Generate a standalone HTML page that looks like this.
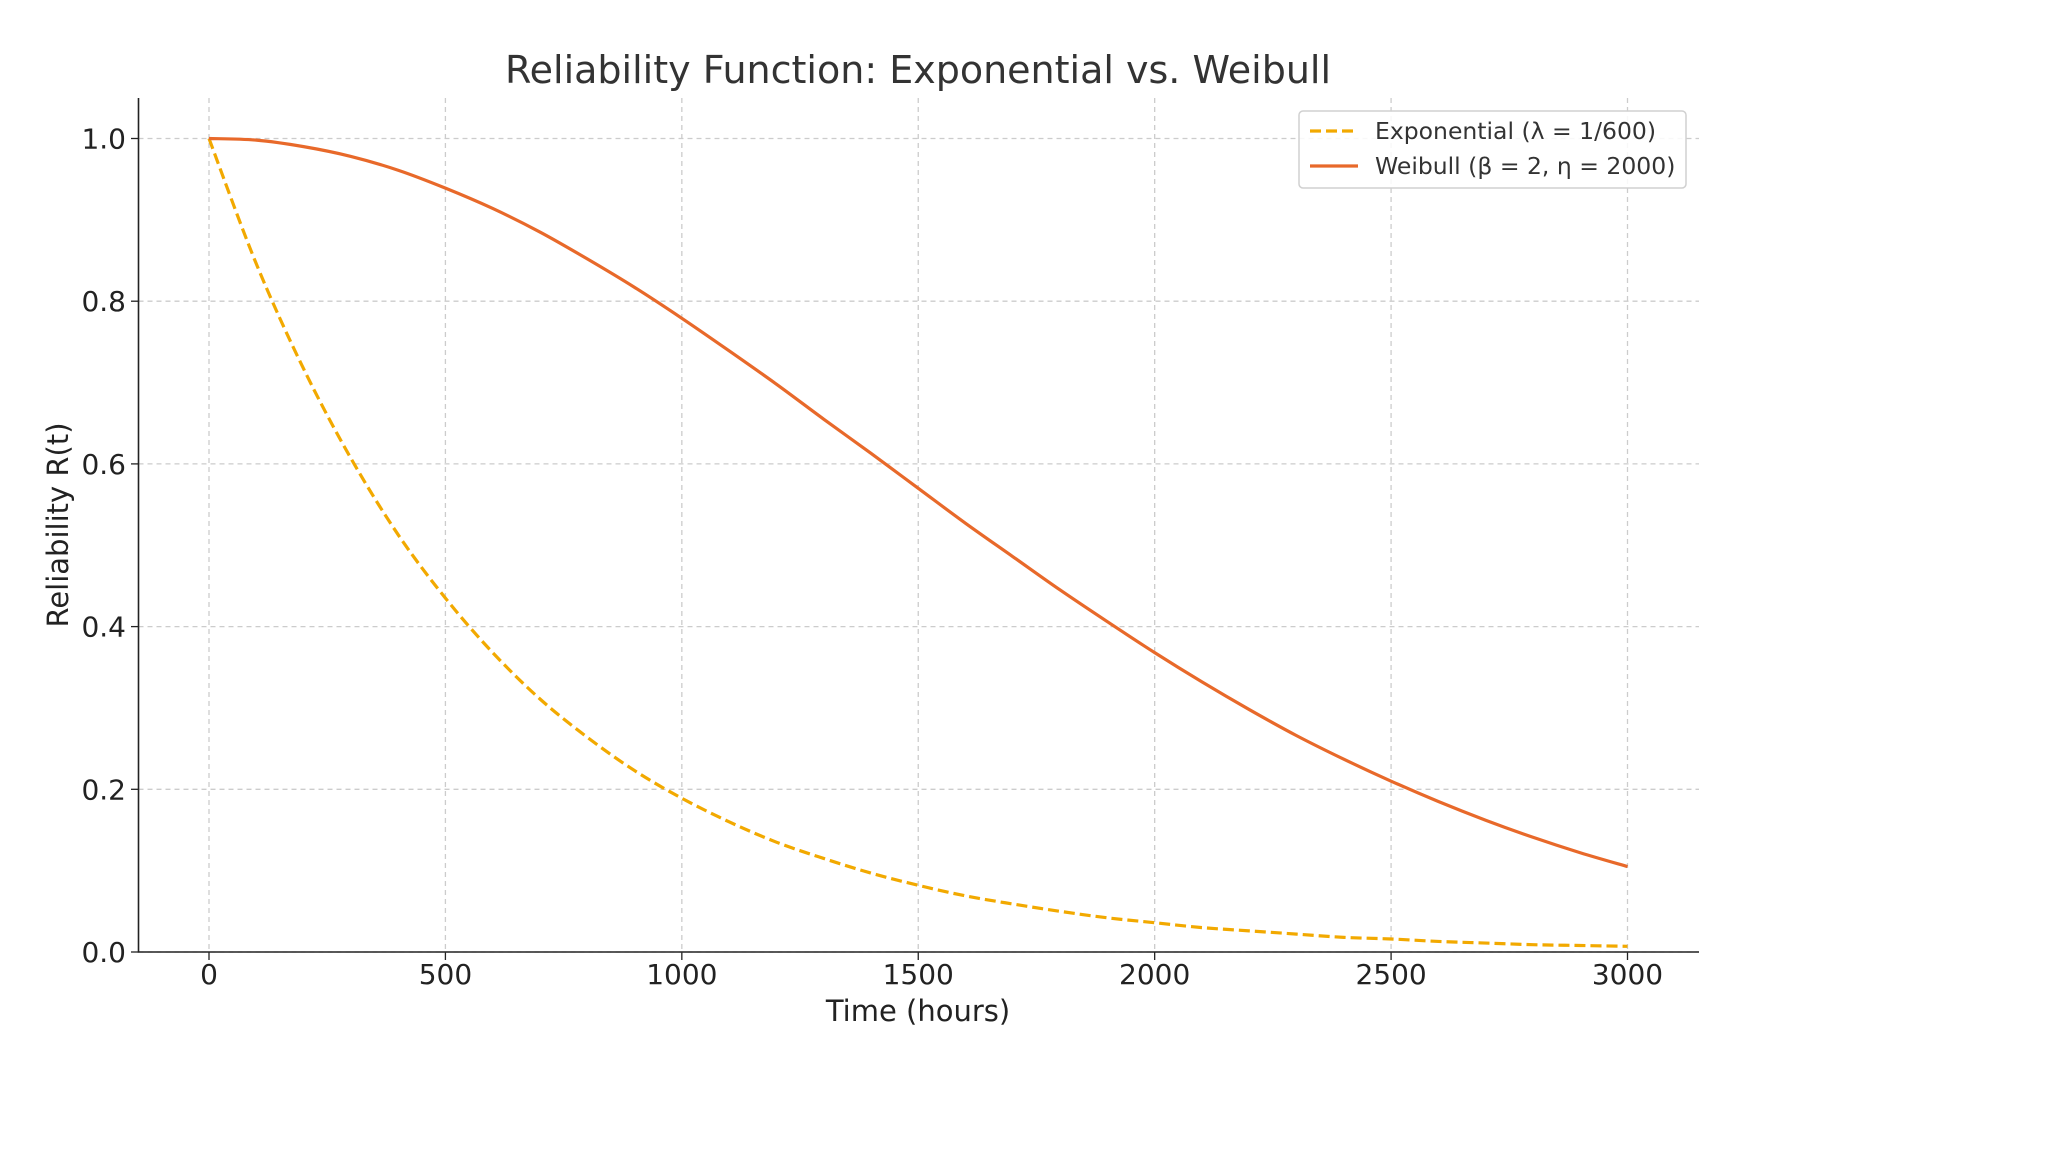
<!DOCTYPE html>
<html><head><meta charset="utf-8"><style>
body{margin:0;background:#fff;}
svg{display:block;font-family:"DejaVu Sans","Liberation Sans",sans-serif;}
</style></head><body>
<svg id="chart" width="2048" height="1152" viewBox="0 0 2048 1152"></svg>
<script>
const timeHours=[0,100,200,300,400,500,600,700,800,900,1000,1100,1200,1300,1400,1500,1600,1700,1800,1900,2000,2100,2200,2300,2400,2500,2600,2700,2800,2900,3000];
const expValues=[1,.846,.717,.607,.513,.435,.368,.311,.264,.223,.189,.160,.135,.115,.097,.082,.069,.059,.050,.042,.036,.030,.026,.022,.018,.016,.013,.011,.009,.008,.007];
const weibullValues=[1,.998,.990,.978,.961,.939,.914,.885,.852,.817,.779,.739,.698,.655,.613,.570,.527,.486,.445,.406,.368,.332,.298,.266,.237,.210,.185,.162,.141,.122,.105];
const xTicks=[0,500,1000,1500,2000,2500,3000];
const yTicks=[0,0.2,0.4,0.6,0.8,1.0];
const NS="http://www.w3.org/2000/svg";
const svg=document.getElementById('chart');
const X0=209,X1=1627.5,Y0=952,Y1=138.5;
const xs=v=>X0+(v-0)/3000*(X1-X0);
const ys=v=>Y0+(v-0)/1*(Y1-Y0);
function mk(t,a,p){const e=document.createElementNS(NS,t);for(const k in a)e.setAttribute(k,a[k]);(p||svg).appendChild(e);return e;}
function smooth(pts){
 let d='M'+pts[0][0]+' '+pts[0][1];
 for(let i=0;i<pts.length-1;i++){
  const p0=pts[Math.max(0,i-1)],p1=pts[i],p2=pts[i+1],p3=pts[Math.min(pts.length-1,i+2)];
  const c1x=p1[0]+(p2[0]-p0[0])/6,c1y=p1[1]+(p2[1]-p0[1])/6;
  const c2x=p2[0]-(p3[0]-p1[0])/6,c2y=p2[1]-(p3[1]-p1[1])/6;
  d+=` C${c1x} ${c1y} ${c2x} ${c2y} ${p2[0]} ${p2[1]}`;
 }
 return d;
}
xTicks.forEach(v=>{
 const g=mk('line',{x1:xs(v),x2:xs(v),y1:98,y2:952,stroke:'#cccccc','stroke-width':1.3,'stroke-dasharray':'5,4'});
 
 
 const tk=mk('line',{x1:xs(v),x2:xs(v),y1:952,y2:960,stroke:'#222','stroke-width':1.3});
 
 
 const t=mk('text',{x:xs(v),y:984,'text-anchor':'middle','font-size':28,fill:'#222'});
 t.textContent=v;
 
 
});
yTicks.forEach(v=>{
 const g=mk('line',{x1:138.5,x2:1699,y1:ys(v),y2:ys(v),stroke:'#cccccc','stroke-width':1.3,'stroke-dasharray':'5,4'});
 
 
 const tk=mk('line',{x1:131,x2:138.5,y1:ys(v),y2:ys(v),stroke:'#222','stroke-width':1.3});
 
 
 const t=mk('text',{x:126,y:ys(v)+10,'text-anchor':'end','font-size':28,fill:'#222'});
 t.textContent=v.toFixed(1);
 
 
});
const sp=mk('path',{d:`M138.5 98 V952 H1699`,fill:'none',stroke:'#222','stroke-width':1.6});


const pe=mk('path',{d:smooth(timeHours.map((t,i)=>[xs(t),ys(expValues[i])])),fill:'none',stroke:'#f2a900','stroke-width':3.2,'stroke-dasharray':'11,5'});


const pw=mk('path',{d:smooth(timeHours.map((t,i)=>[xs(t),ys(weibullValues[i])])),fill:'none',stroke:'#e8692a','stroke-width':3.2});


let t=mk('text',{x:918,y:83,'text-anchor':'middle','font-size':38,fill:'#333'});
t.textContent='Reliability Function: Exponential vs. Weibull';


t=mk('text',{x:918,y:1021,'text-anchor':'middle','font-size':29,fill:'#222'});
t.textContent='Time (hours)';


t=mk('text',{x:0,y:0,'text-anchor':'middle','font-size':29,fill:'#222',transform:'translate(68,525) rotate(-90)'});
t.textContent='Reliability R(t)';


const lg=mk('g',{});


mk('rect',{x:1299,y:111,width:387,height:77,rx:4,fill:'#fff','fill-opacity':0.85,stroke:'#d0d0d0','stroke-width':1.5},lg);
let l=mk('line',{x1:1310,x2:1358,y1:131,y2:131,stroke:'#f2a900','stroke-width':3.2,'stroke-dasharray':'11,5'},lg);


t=mk('text',{x:1375,y:139,'font-size':23.5,fill:'#333'},lg);
t.textContent='Exponential (λ = 1/600)';


l=mk('line',{x1:1310,x2:1358,y1:166,y2:166,stroke:'#e8692a','stroke-width':3.2},lg);


t=mk('text',{x:1375,y:174,'font-size':23.5,fill:'#333'},lg);
t.textContent='Weibull (β = 2, η = 2000)';


</script>
</body></html>
